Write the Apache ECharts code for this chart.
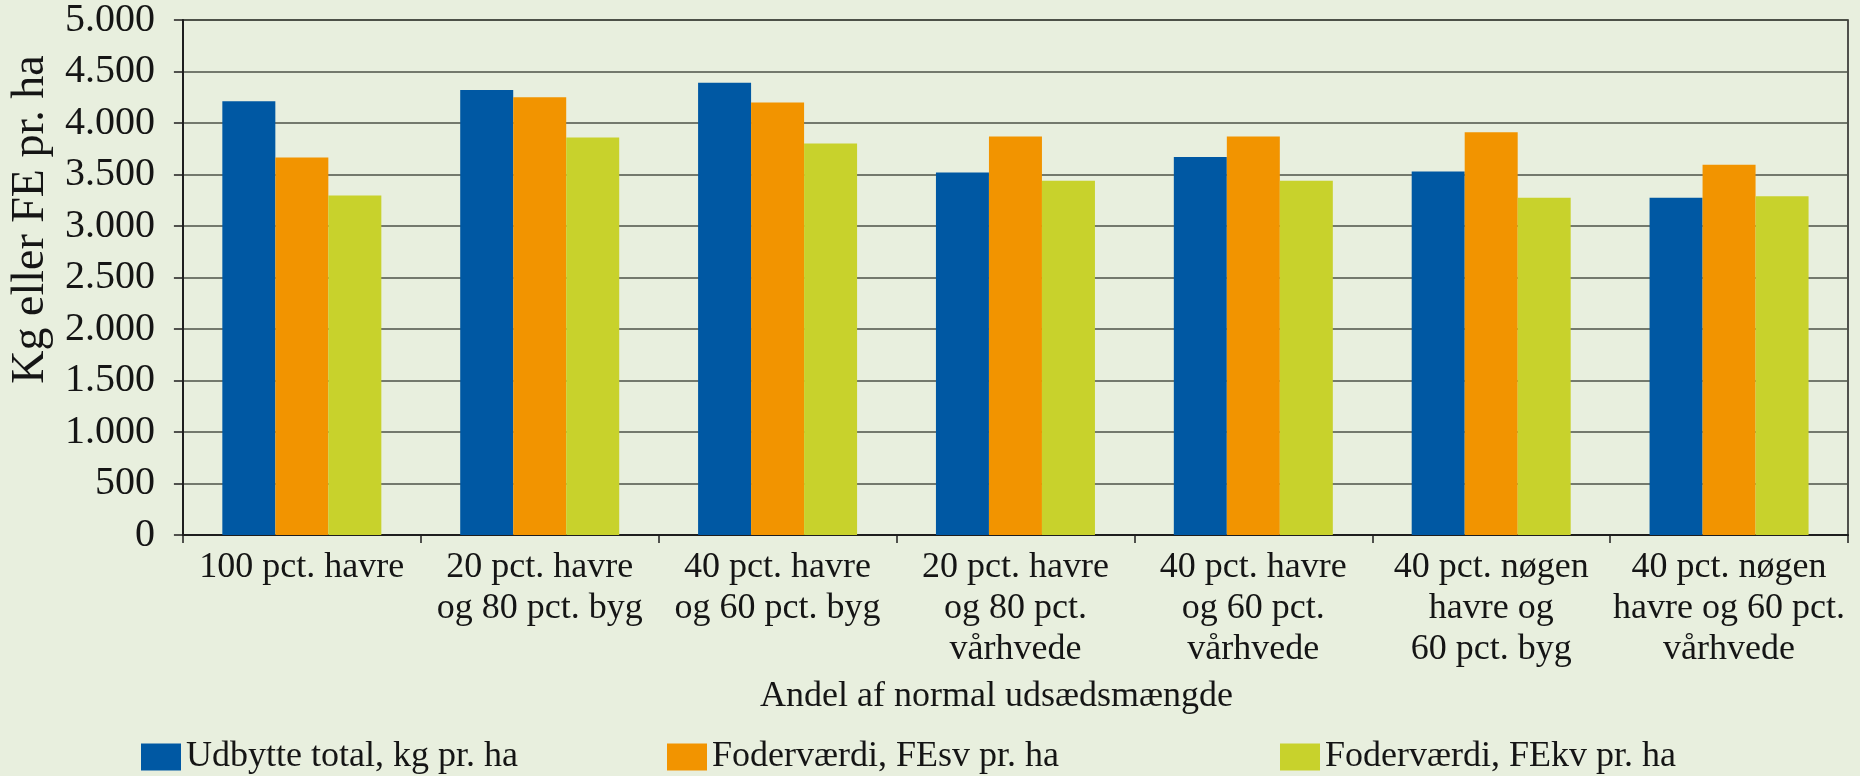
<!DOCTYPE html>
<html>
<head>
<meta charset="utf-8">
<script src="https://cdn.jsdelivr.net/npm/echarts@6/dist/echarts.min.js"></script>
<style>
html,body{margin:0;padding:0;background:#e8efde;}
#c{width:1860px;height:776px;}
</style>
</head>
<body>
<div id="c"></div>
<script>
const categories = [
  "100 pct. havre",
  "20 pct. havre\nog 80 pct. byg",
  "40 pct. havre\nog 60 pct. byg",
  "20 pct. havre\nog 80 pct.\nvårhvede",
  "40 pct. havre\nog 60 pct.\nvårhvede",
  "40 pct. nøgen\nhavre og\n60 pct. byg",
  "40 pct. nøgen\nhavre og 60 pct.\nvårhvede"
];
const seriesNames = ["Udbytte total, kg pr. ha", "Foderværdi, FEsv pr. ha", "Foderværdi, FEkv pr. ha"];
const udbytte = [4210, 4320, 4390, 3520, 3670, 3530, 3275];
const fesv = [3665, 4250, 4200, 3870, 3870, 3910, 3595];
const fekv = [3295, 3860, 3800, 3440, 3440, 3275, 3290];
const yTicks = { min: 0, max: 5000, interval: 500 };
const yName = "Kg eller FE pr. ha";
const xName = "Andel af normal udsædsmængde";
const colors = ["#0058a3", "#f29400", "#c8d22c"];

const FONT = "'Liberation Serif', 'Times New Roman', serif";
const TXT = "#151515";

function fmt(v) {
  return String(v).replace(/\B(?=(\d{3})+(?!\d))/g, ".");
}

const chart = echarts.init(document.getElementById('c'), null, { renderer: 'canvas' });
const values = [udbytte, fesv, fekv];

function legendAt(left, name) {
  return {
    left: left, top: 734, orient: 'horizontal',
    itemWidth: 40, itemHeight: 27, itemGap: 0,
    icon: 'rect', data: [name], selectedMode: false,
    textStyle: { fontFamily: FONT, fontSize: 36, color: TXT, padding: [0, 0, 0, 0] }
  };
}

chart.setOption({
  backgroundColor: '#e8efde',
  animation: false,
  color: colors,
  grid: {
    left: 171, right: 12, top: 19, bottom: 241,
    show: true, borderColor: '#1e1e1e', borderWidth: 1.5,
    containLabel: false
  },
  legend: [legendAt(136, seriesNames[0]), legendAt(662, seriesNames[1]), legendAt(1275, seriesNames[2])],
  xAxis: {
    type: 'category',
    data: categories,
    boundaryGap: true,
    name: xName,
    nameLocation: 'middle',
    nameGap: 144,
    nameTextStyle: { fontFamily: FONT, fontSize: 36, color: TXT, padding: [0, 38, 0, 0] },
    axisLine: { show: true, lineStyle: { color: '#1e1e1e', width: 2 } },
    axisTick: { show: true, length: 8, alignWithLabel: false, lineStyle: { color: '#1e1e1e', width: 1.5 } },
    axisLabel: { interval: 0, margin: 12, fontFamily: FONT, fontSize: 36, lineHeight: 41, color: TXT, align: 'center' },
    splitLine: { show: false }
  },
  yAxis: {
    type: 'value',
    min: yTicks.min, max: yTicks.max, interval: yTicks.interval,
    name: yName,
    nameLocation: 'middle',
    nameGap: 120,
    nameTextStyle: { fontFamily: FONT, fontSize: 46, color: TXT, padding: [0, 0, 0, 116] },
    axisLine: { show: true, lineStyle: { color: '#1e1e1e', width: 2 } },
    axisTick: { show: true, length: 9, inside: false, lineStyle: { color: '#1e1e1e', width: 1.5 } },
    axisLabel: { margin: 28, fontFamily: FONT, fontSize: 40, color: TXT, formatter: fmt },
    splitLine: { show: true, lineStyle: { color: '#4d5247', width: 1.5 } }
  },
  series: seriesNames.map((n, i) => ({
    name: n,
    type: 'bar',
    data: values[i],
    barWidth: 53,
    barGap: '0%',
    itemStyle: { color: colors[i] }
  }))
});
</script>
</body>
</html>
